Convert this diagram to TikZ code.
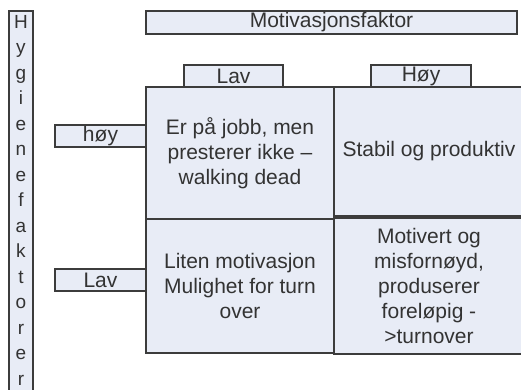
\documentclass[tikz,border=0pt]{standalone}
\usepackage{fontspec}
\setmainfont{Liberation Sans}
\usetikzlibrary{positioning}
\definecolor{mFill}{HTML}{E8ECF6}
\definecolor{mEdge}{HTML}{3C3C3C}
\definecolor{mText}{HTML}{333333}

\begin{document}
\begin{tikzpicture}[
  x=1pt, y=-1pt,
  box/.style={draw=mEdge, fill=mFill, line width=1.5pt, inner sep=0pt,
              outer sep=0pt, align=center, text=mText,
              font=\fontsize{21}{25}\selectfont},
  cell/.style={box, minimum width=#1},
  ltr/.style={anchor=base, inner sep=0pt, text=mText,
              font=\fontsize{19}{19}\selectfont},
]
\useasboundingbox (0,0) rectangle (521,389);
\clip (0,0) rectangle (521,389);

% ============================================================ headers
% ---- motivation axis
\node[box, minimum width=371pt, minimum height=23pt] at (331.5,22.5) (mot) {Motivasjonsfaktor};
\node[box, minimum width=99pt,  minimum height=22pt] at (233.5,76)  (lavT) {Lav};
\node[box, minimum width=100pt, minimum height=22pt] at (421,76)    (hoyT) {Høy};

% ---- hygiene axis
\node[box, minimum width=24pt, minimum height=384pt] at (21,203) (bar) {};
\foreach \ch [count=\i from 0] in {H,y,g,i,e,n,e,f,a,k,t,o,r,e,r}
  \node[ltr] at (21,28+25.5*\i) (ltr\i) {\ch};
\node[box, minimum width=91pt, minimum height=22pt] at (100.5,136) (hoyL) {høy};
\node[box, minimum width=91pt, minimum height=22pt] at (100.5,280) (lavL) {Lav};

% ============================================================ matrix
\node[box, minimum width=188pt, minimum height=132pt] at (240,153) (tl)
  {Er på jobb, men\\presterer ikke --\\walking dead};
\node[box, minimum width=190pt, minimum height=129pt] at (429,151.5) (tr)
  {Stabil og produktiv};
\node[box, minimum width=188pt, minimum height=134pt] at (240,286) (bl)
  {Liten motivasjon\\Mulighet for turn\\over};
\node[box, minimum width=190pt, minimum height=136pt] at (429,286) (br)
  {Motivert og\\misfornøyd,\\produserer\\foreløpig -\\>turnover};

\end{tikzpicture}
\end{document}
